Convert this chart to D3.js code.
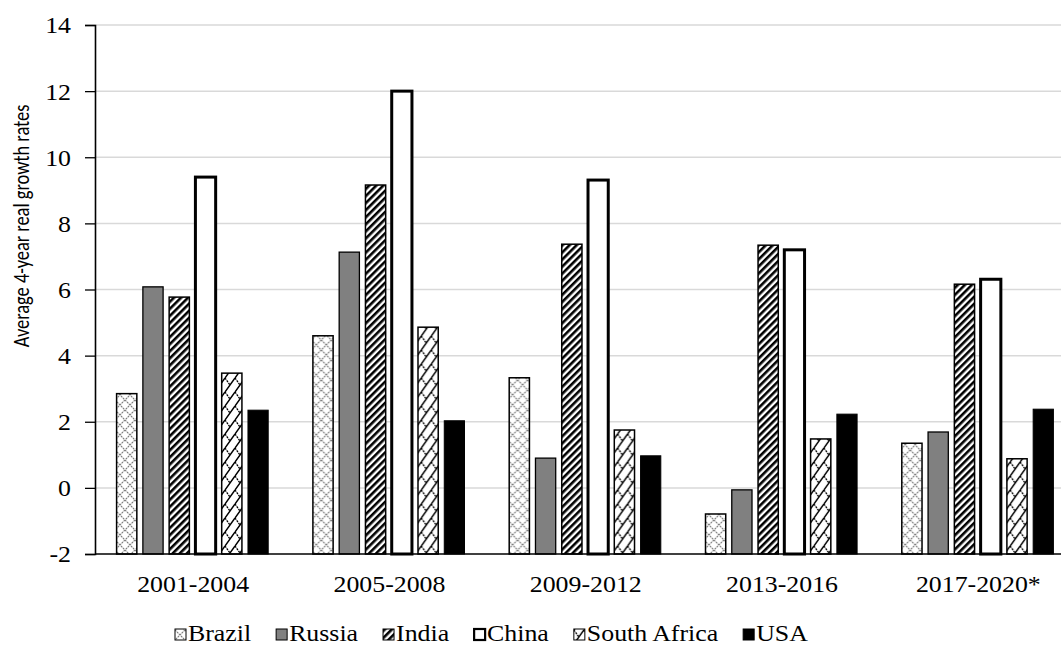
<!DOCTYPE html>
<html>
<head>
<meta charset="utf-8">
<script src="https://cdn.jsdelivr.net/npm/d3@7"></script>
<style>
  html, body { margin: 0; padding: 0; background: #fff; }
  svg { display: block; }
</style>
</head>
<body>
<svg id="chart" width="1061" height="652"></svg>
<script>
// Four-year periods on the category axis
const periods = ["2001-2004", "2005-2008", "2009-2012", "2013-2016", "2017-2020*"];
// Country series, in legend order
const seriesNames = ["Brazil", "Russia", "India", "China", "South Africa", "USA"];
// Average 4-year real growth rates per country, one value per period
const brazil = [2.85, 4.60, 3.33, -0.79, 1.35];
const russia = [6.08, 7.13, 0.90, -0.06, 1.69];
const india = [5.77, 9.16, 7.37, 7.34, 6.16];
const china = [9.40, 12.00, 9.31, 7.20, 6.31];
const southAfrica = [3.47, 4.86, 1.75, 1.48, 0.88];
const usa = [2.35, 2.03, 0.97, 2.23, 2.38];
// Value-axis ticks
const yTicks = [-2, 0, 2, 4, 6, 8, 10, 12, 14];

const seriesValues = [brazil, russia, india, china, southAfrica, usa];

const svg = d3.select("#chart");
const serif = "'Liberation Serif', 'Times New Roman', serif";
const sx = 1.1;           // horizontal widening of the serif labels
const fontSize = 23.5;

const plotLeft = 95, catWidth = 196.3;
const x0 = d3.scaleBand().domain(periods).range([plotLeft, plotLeft + catWidth * periods.length]);
const x1 = d3.scaleBand().domain(seriesNames).range([21.6, 173.2]).paddingInner(0.23);
const y = d3.scaleLinear().domain([-2, 14]).range([554, 25]);

// ---- fill patterns ----
const defs = svg.append("defs");

// Brazil: light dotted lattice
const pBr = defs.append("pattern").attr("id", "pBrazil").attr("patternUnits", "userSpaceOnUse")
  .attr("width", 10).attr("height", 10);
pBr.append("rect").attr("width", 10).attr("height", 10).attr("fill", "#fff");
pBr.append("path").attr("d", "M0,0 L10,10 M10,0 L0,10")
  .attr("stroke", "#7a7a7a").attr("stroke-width", 1.1).attr("stroke-dasharray", "2,0.8");

// India: dense upward diagonal stripes
const pIn = defs.append("pattern").attr("id", "pIndia").attr("patternUnits", "userSpaceOnUse")
  .attr("width", 5).attr("height", 5).attr("patternTransform", "rotate(45)");
pIn.append("rect").attr("width", 5).attr("height", 5).attr("fill", "#fff");
pIn.append("rect").attr("width", 2.6).attr("height", 5).attr("fill", "#000");

// South Africa: zigzag lattice, solid rising strokes and broken falling strokes
const pSa = defs.append("pattern").attr("id", "pSA").attr("patternUnits", "userSpaceOnUse")
  .attr("width", 10).attr("height", 14);
pSa.append("rect").attr("width", 10).attr("height", 14).attr("fill", "#fff");
pSa.append("path").attr("d", "M0,14 L10,0 M-2,2.8 L0,0 M10,14 L12,11.2")
  .attr("stroke", "#000").attr("stroke-width", 1.5);
pSa.append("path").attr("d", "M0,0 L5,7 M10,0 L15,7 M-5,7 L0,14")
  .attr("stroke", "#000").attr("stroke-width", 1.3).attr("stroke-dasharray", "2,1");

const fills = {
  "Brazil": "url(#pBrazil)",
  "Russia": "#808080",
  "India": "url(#pIndia)",
  "China": "#ffffff",
  "South Africa": "url(#pSA)",
  "USA": "#000000"
};
const strokeW = { "Brazil": 1.5, "Russia": 1.3, "India": 1.5, "China": 3, "South Africa": 1.5, "USA": 1 };

// ---- gridlines ----
svg.append("g")
  .selectAll("line")
  .data(yTicks.filter(t => t > -2))
  .join("line")
  .attr("x1", plotLeft).attr("x2", 1061)
  .attr("y1", d => y(d)).attr("y2", d => y(d))
  .attr("stroke", "#d9d9d9").attr("stroke-width", 1.5);

// ---- bars (rise from the bottom of the value axis) ----
const rows = periods.map((p, i) => ({
  period: p,
  values: seriesNames.map((s, j) => ({ series: s, value: seriesValues[j][i] }))
}));

svg.append("g")
  .selectAll("g")
  .data(rows)
  .join("g")
  .attr("transform", d => `translate(${x0(d.period)},0)`)
  .selectAll("rect")
  .data(d => d.values)
  .join("rect")
  .attr("x", d => x1(d.series))
  .attr("width", x1.bandwidth())
  .attr("y", d => y(d.value))
  .attr("height", d => y(-2) - y(d.value))
  .attr("fill", d => fills[d.series])
  .attr("stroke", "#000")
  .attr("stroke-width", d => strokeW[d.series]);

// ---- axes ----
const yAxis = svg.append("g")
  .attr("transform", `translate(${plotLeft},0)`)
  .call(d3.axisLeft(y).tickValues(yTicks).tickSize(10).tickPadding(0).tickFormat(d => String(d)));
yAxis.select(".domain").attr("stroke", "#000").attr("stroke-width", 1.6);
yAxis.selectAll(".tick line").attr("stroke", "#000").attr("stroke-width", 1.3);
yAxis.selectAll(".tick text")
  .attr("x", -24 / sx).attr("dy", "0.34em")
  .attr("transform", `scale(${sx},1)`)
  .style("font-family", serif).style("font-size", fontSize + "px").attr("fill", "#000");

const xAxis = svg.append("g")
  .attr("transform", `translate(0,${y(-2)})`)
  .call(d3.axisBottom(x0).tickSize(0).tickPadding(0));
xAxis.select(".domain").remove();
xAxis.append("line").attr("x1", plotLeft).attr("x2", 1061).attr("y1", 0).attr("y2", 0)
  .attr("stroke", "#000").attr("stroke-width", 1.6);
xAxis.selectAll(".tick text")
  .attr("y", 0).attr("dy", 0)
  .attr("transform", `translate(0,38) scale(${sx},1)`)
  .style("font-family", serif).style("font-size", fontSize + "px").attr("fill", "#000");

// ---- value-axis title ----
svg.append("text")
  .attr("transform", "translate(29,226) rotate(-90) scale(0.8,1)")
  .attr("text-anchor", "middle")
  .style("font-family", "Carlito, Lato, 'Liberation Sans', sans-serif")
  .style("font-size", "23px")
  .attr("fill", "#000")
  .text("Average 4-year real growth rates");

// ---- legend ----
const legend = svg.append("g");
let lx = 175;
seriesNames.forEach(name => {
  const item = legend.append("g").attr("transform", `translate(${lx},0)`);
  item.append("rect")
    .attr("x", 0).attr("y", 629).attr("width", 11).attr("height", 11)
    .attr("fill", fills[name]).attr("stroke", "#000")
    .attr("stroke-width", name === "China" ? 2.2 : 1);
  const t = item.append("text")
    .attr("transform", `translate(13,641) scale(${sx},1)`)
    .style("font-family", serif).style("font-size", fontSize + "px").attr("fill", "#000")
    .text(name);
  const w = t.node().getComputedTextLength() * sx;
  lx += 13 + w + 25;
});
</script>
</body>
</html>
